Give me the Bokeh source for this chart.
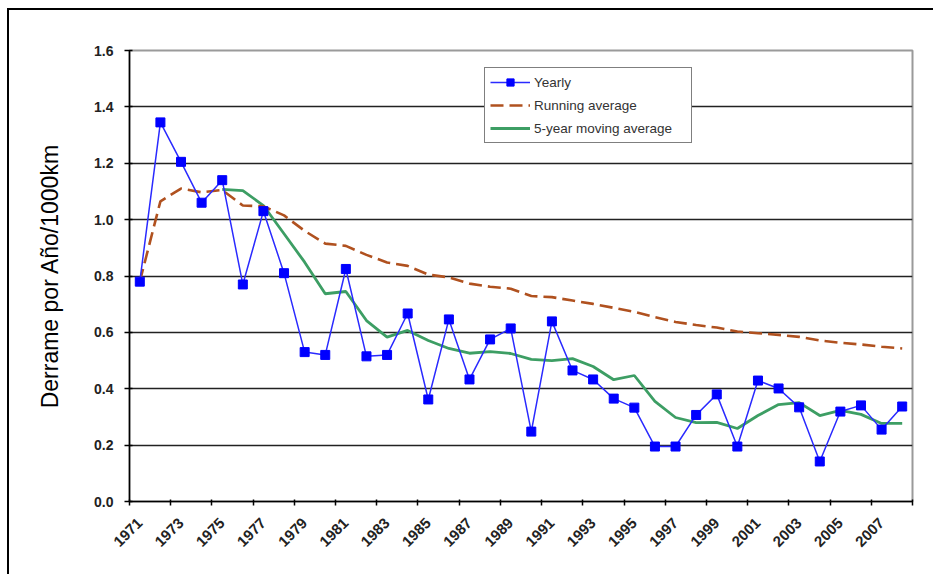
import math
from bokeh.plotting import figure
from bokeh.models import (FixedTicker, PrintfTickFormatter, Legend, LegendItem,
                          ColumnDataSource, Range1d)
from bokeh.embed import file_html
from bokeh.resources import INLINE

# ---- data ----
years = list(range(1971, 2009))
yearly = [0.78, 1.345, 1.205, 1.06, 1.14, 0.77, 1.03, 0.81, 0.53, 0.52,
          0.825, 0.515, 0.52, 0.667, 0.362, 0.646, 0.433, 0.575, 0.614, 0.248,
          0.639, 0.465, 0.433, 0.365, 0.333, 0.195, 0.195, 0.307, 0.38, 0.195,
          0.429, 0.401, 0.334, 0.142, 0.319, 0.341, 0.255, 0.337]
running_avg = [0.78, 1.065, 1.11, 1.097, 1.105, 1.05, 1.047, 1.015, 0.96, 0.915,
               0.907, 0.875, 0.848, 0.836, 0.805, 0.795, 0.773, 0.762, 0.755, 0.729,
               0.725, 0.713, 0.701, 0.687, 0.673, 0.654, 0.637, 0.626, 0.617, 0.603,
               0.597, 0.591, 0.584, 0.571, 0.563, 0.557, 0.549, 0.543]
ma_years = list(range(1975, 2009))
moving_avg = [1.107, 1.103, 1.05, 0.95, 0.849, 0.737, 0.745, 0.642, 0.583, 0.607,
              0.571, 0.543, 0.526, 0.532, 0.525, 0.504, 0.5, 0.507, 0.479, 0.432,
              0.447, 0.355, 0.298, 0.28, 0.281, 0.259, 0.305, 0.344, 0.351, 0.305,
              0.323, 0.309, 0.277, 0.277]
x_tick_labels = [str(y) for y in range(1971, 2008, 2)]
y_ticks = [0.0, 0.2, 0.4, 0.6, 0.8, 1.0, 1.2, 1.4, 1.6]
series_names = ["Yearly", "Running average", "5-year moving average"]
y_title = "Derrame por Año/1000km"

FONT = "Liberation Sans"

p = figure(width=926, height=566, output_backend="svg", toolbar_location=None,
           x_range=Range1d(1970.5, 2008.5), y_range=Range1d(0, 1.6),
           min_border_left=120, min_border_right=23, min_border_top=40,
           min_border_bottom=75, background_fill_color="white",
           border_fill_color="white")
p.styles = {"border-left": "2px solid black", "border-top": "2px solid black",
            "margin-left": "7px", "margin-top": "8px"}

p.outline_line_color = "#9a9a9a"
p.outline_line_width = 2

# grid
p.xgrid.grid_line_color = None
p.ygrid.grid_line_color = "#222222"
p.ygrid.grid_line_width = 1.6

# y axis
p.yaxis.ticker = FixedTicker(ticks=y_ticks)
p.yaxis.formatter = PrintfTickFormatter(format="%.1f")
p.yaxis.major_tick_out = 5
p.yaxis.major_tick_in = 3
p.yaxis.minor_tick_line_color = None
p.yaxis.axis_line_color = "black"
p.yaxis.axis_line_width = 1.5
p.yaxis.major_tick_line_width = 1.5
p.yaxis.major_label_text_font = FONT
p.yaxis.major_label_text_font_style = "bold"
p.yaxis.major_label_text_font_size = "14px"
p.yaxis.major_label_text_color = "#222222"
p.yaxis.major_label_standoff = 11
p.yaxis.axis_label = y_title
p.yaxis.axis_label_text_font = FONT
p.yaxis.axis_label_text_font_style = "normal"
p.yaxis.axis_label_text_font_size = "23px"
p.yaxis.axis_label_text_color = "black"
p.yaxis.axis_label_standoff = 28

# x axis
tick_years = [int(s) for s in x_tick_labels]
p.xaxis.ticker = FixedTicker(ticks=tick_years,
                             minor_ticks=[y - 0.5 for y in tick_years] + [tick_years[-1] + 1.5])
p.xaxis.formatter = PrintfTickFormatter(format="%d")
p.xaxis.major_tick_out = 0
p.xaxis.major_tick_in = 0
p.xaxis.minor_tick_out = 4
p.xaxis.minor_tick_in = 2
p.xaxis.minor_tick_line_color = "black"
p.xaxis.minor_tick_line_width = 1.5
p.xaxis.axis_line_color = "black"
p.xaxis.axis_line_width = 1.5
p.xaxis.major_label_orientation = math.pi / 4
p.xaxis.major_label_text_font = FONT
p.xaxis.major_label_text_font_style = "bold"
p.xaxis.major_label_text_font_size = "15px"
p.xaxis.major_label_text_color = "#222222"
p.xaxis.major_label_standoff = 15

src = ColumnDataSource(dict(x=years, yearly=yearly, run=running_avg))
ma_src = ColumnDataSource(dict(x=ma_years, ma=moving_avg))

g_ma = p.line("x", "ma", source=ma_src, line_color="#3d9e64", line_width=2.8)
g_run = p.line("x", "run", source=src, line_color="#b0511f", line_width=2.6,
               line_dash="13 6")
g_line = p.line("x", "yearly", source=src, line_color="#2a2aff", line_width=1.5)
g_pts = p.scatter("x", "yearly", source=src, marker="square", size=9,
                  fill_color="#0000ff", line_color="#0000ff")

legend = Legend(items=[LegendItem(label=series_names[0], renderers=[g_line, g_pts]),
                       LegendItem(label=series_names[1], renderers=[g_run]),
                       LegendItem(label=series_names[2], renderers=[g_ma])],
                location=(355, 358), orientation="vertical")
legend.border_line_color = "black"
legend.border_line_width = 1.5
legend.background_fill_color = "white"
legend.background_fill_alpha = 1
legend.padding = 5
legend.margin = 0
legend.spacing = 5
legend.glyph_width = 40
legend.glyph_height = 18
legend.label_standoff = 4
legend.label_width = 152
legend.label_text_font = FONT
legend.label_text_font_size = "13.5px"
legend.label_text_color = "#333333"
p.add_layout(legend, "center")

open("out.html", "w").write(file_html(p, INLINE))
